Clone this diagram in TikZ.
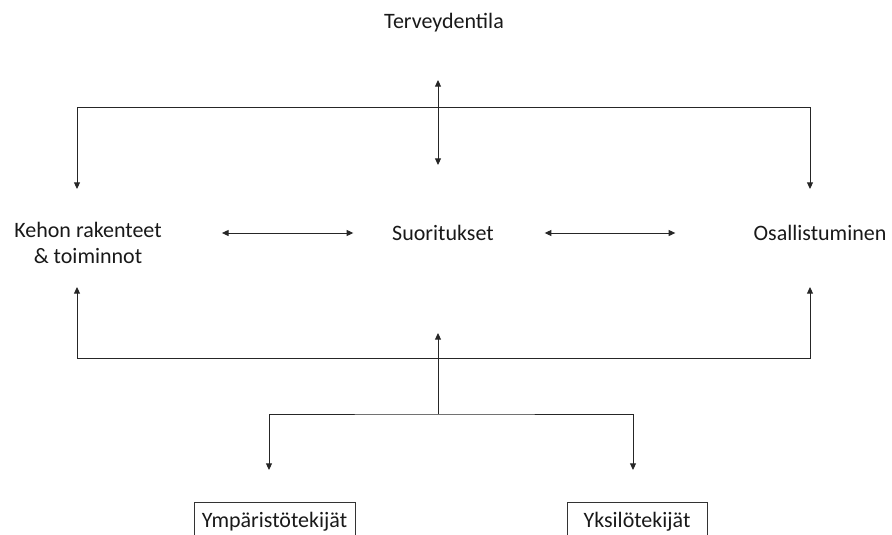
\documentclass[tikz,border=0pt]{standalone}
\usepackage{fontspec}
\setmainfont{Carlito}
\usetikzlibrary{arrows.meta}

\begin{document}
\begin{tikzpicture}[x=0.75pt, y=-0.75pt,
    term/.style={align=center, font=\fontsize{16.5}{19.5}\selectfont, text=black!90, inner sep=0pt},
    factor/.style={term, draw=black!80, line width=0.7pt, minimum height=30pt},
    link/.style={line width=0.7pt, draw=black!85, -{Triangle[length=5pt,width=4.5pt]}},
    twoway/.style={link, {Triangle[length=5pt,width=4.5pt]}-{Triangle[length=5pt,width=4.5pt]}}]

\useasboundingbox (0,0) rectangle (892,535);
\clip (0,0) rectangle (892,535);

\node[term] (terveys) at (444,23) {Terveydentila};
\node[term] (kehon) at (88,243) {Kehon rakenteet\\\& toiminnot};
\node[term] (suoritukset) at (443,233) {Suoritukset};
\node[term] (osallistuminen) at (820,233) {Osallistuminen};
\node[factor, minimum width=120.75pt] (ymparisto) at (274.5,522) {Ympäristötekijät};
\node[factor, minimum width=105pt] (yksilo) at (637,522) {Yksilötekijät};

% haarojen pisteet
\coordinate (ylaT) at (438,80);
\coordinate (ylaB) at (438,165);
\coordinate (ylaV) at (77,107);
\coordinate (ylaO) at (810,107);
\coordinate (kehonY) at (77,189);
\coordinate (osalY) at (810,189);
\coordinate (kehonA) at (77,287);
\coordinate (osalA) at (810,287);
\coordinate (alaV) at (77,358);
\coordinate (alaO) at (810,358);
\coordinate (keskiY) at (438,333);
\coordinate (haara) at (438,414);
\coordinate (ympY) at (269,470);
\coordinate (yksY) at (633,470);

\draw[twoway] (ylaT) -- (ylaB);
\draw[twoway] (kehonY) -- (ylaV) -- (ylaO) -- (osalY);
\draw[twoway, shorten <=45pt, shorten >=29pt] (kehon.east |- suoritukset.west) -- (suoritukset.west);
\draw[twoway, shorten <=38pt, shorten >=58.5pt] (suoritukset.east) -- (osallistuminen.west);
\draw[twoway] (kehonA) -- (alaV) -- (alaO) -- (osalA);
\draw[link] (haara) -- (keskiY);
\draw[twoway] (ympY) |- (haara) -| (yksY);
\end{tikzpicture}
\end{document}
